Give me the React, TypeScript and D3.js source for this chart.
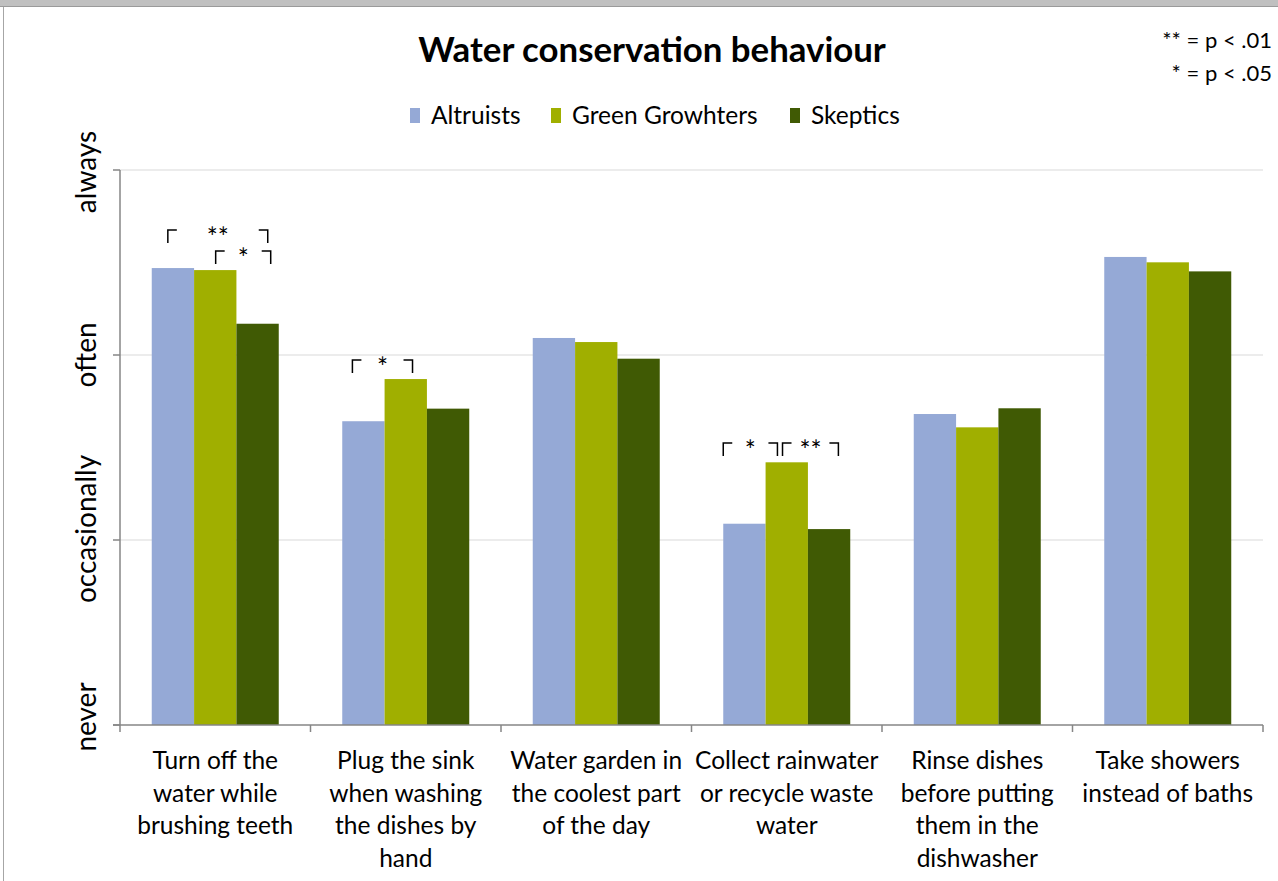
import React from "react";
import * as d3 from "d3";

const title = "Water conservation behaviour";
const seriesNames = ["Altruists", "Green Growhters", "Skeptics"];
const seriesColors = ["#95a9d6", "#a0af00", "#405a04"];
const categories = [
  ["Turn off the", "water while", "brushing teeth"],
  ["Plug the sink", "when washing", "the dishes by", "hand"],
  ["Water garden in", "the coolest part", "of the day"],
  ["Collect rainwater", "or recycle waste", "water"],
  ["Rinse dishes", "before putting", "them in the", "dishwasher"],
  ["Take showers", "instead of baths"],
];
const altruists = [2.47, 1.642, 2.092, 1.088, 1.681, 2.53];
const greenGrowthers = [2.459, 1.87, 2.07, 1.42, 1.609, 2.501];
const skeptics = [2.169, 1.71, 1.98, 1.059, 1.712, 2.452];
const yTickValues = [0, 1, 2, 3];
const yTickLabels = ["never", "occasionally", "often", "always"];
const sigNotes = ["** = p < .01", "* = p < .05"];
// significance brackets: category index, left/right in bar units from group start, level on value scale
const sigCat = [0, 0, 1, 3, 3];
const sigLeft = [0.38, 1.51, 0.24, 0.0, 1.4];
const sigRight = [2.74, 2.81, 1.66, 1.28, 2.72];
const sigLevel = [2.676, 2.562, 1.973, 1.524, 1.524];
const sigText = ["**", "*", "*", "*", "**"];

const W = 1278;
const H = 881;
const FONT = "Lato, 'Open Sans', sans-serif";
// layout (pixel styling)
const yLabelShift = [-8, -11, 0, 2];
const legendX = [410, 551, 790];

export default function App() {
  const left = 120, right = 1263, top = 170, bottom = 725;
  const x0 = d3.scaleBand<number>().domain(d3.range(categories.length)).range([left, right]).paddingInner(0).paddingOuter(0);
  const x1 = d3.scaleBand<number>().domain(d3.range(3)).range([0, x0.bandwidth()]).paddingInner(0).paddingOuter(0.75);
  const y = d3.scaleLinear().domain([0, 3]).range([bottom, top]);
  const series = [altruists, greenGrowthers, skeptics];
  const bw = x1.bandwidth();
  const boundaries = d3.range(categories.length + 1).map((i) => left + i * x0.step());
  const cx = 652;

  return (
    <svg width={W} height={H} style={{ position: "absolute", left: 0, top: 0, background: "#fff" }} fontFamily={FONT}>
      <rect x={0} y={0} width={W} height={6} fill="#c0c0c0" />
      <line x1={0} x2={W} y1={6.5} y2={6.5} stroke="#9a9a9a" />
      <line x1={3.5} x2={3.5} y1={7} y2={H} stroke="#a6a6a6" />

      <text x={cx} y={62} textAnchor="middle" fontSize={34.8} fontWeight="bold" fill="#000">{title}</text>

      {sigNotes.map((t, i) => (
        <text key={t} x={1272} y={48 + i * 33} textAnchor="end" fontSize={22} fill="#000">{t}</text>
      ))}

      {seriesNames.map((n, i) => (
        <g key={n}>
          <rect x={legendX[i]} y={108} width={10} height={15} fill={seriesColors[i]} />
          <text x={legendX[i] + 21} y={124} fontSize={24.5} fill="#000">{n}</text>
        </g>
      ))}

      {yTickValues.slice(1).map((v) => (
        <line key={v} x1={left} x2={right} y1={y(v)} y2={y(v)} stroke="#d9d9d9" strokeWidth={1} />
      ))}

      {series.map((vals, si) =>
        vals.map((v, ci) => (
          <rect
            key={`${si}-${ci}`}
            x={x0(ci)! + x1(si)!}
            y={y(v)}
            width={bw}
            height={y(0) - y(v)}
            fill={seriesColors[si]}
          />
        ))
      )}

      <line x1={left} x2={left} y1={top} y2={bottom} stroke="#868686" strokeWidth={1.5} />
      <line x1={left - 7} x2={right} y1={bottom} y2={bottom} stroke="#868686" strokeWidth={1.5} />
      {yTickValues.map((v) => (
        <line key={v} x1={left - 7} x2={left} y1={y(v)} y2={y(v)} stroke="#868686" strokeWidth={1.5} />
      ))}
      {boundaries.map((bx, i) => (
        <line key={i} x1={bx} x2={bx} y1={bottom} y2={bottom + 7} stroke="#868686" strokeWidth={1.5} />
      ))}

      {yTickValues.map((v, i) => (
        <text key={v} transform={`translate(85,${y(v) + yLabelShift[i]}) rotate(-90)`} textAnchor="middle" dominantBaseline="central" fontSize={28} fill="#000">
          {yTickLabels[i]}
        </text>
      ))}

      {categories.map((lines, ci) => (
        <text key={ci} x={x0(ci)! + x0.bandwidth() / 2} textAnchor="middle" fontSize={24.5} fill="#000">
          {lines.map((l, li) => (
            <tspan key={li} x={x0(ci)! + x0.bandwidth() / 2} y={769 + li * 32.7}>{l}</tspan>
          ))}
        </text>
      ))}

      {sigCat.map((c, i) => {
        const gx = x0(c)! + x1(0)!;
        const lx = gx + sigLeft[i] * bw;
        const rx = gx + sigRight[i] * bw;
        const ty = y(sigLevel[i]);
        return (
          <g key={i}>
            <path d={`M${lx},${ty + 13}V${ty}H${lx + 9}`} fill="none" stroke="#000" strokeWidth={1.5} />
            <path d={`M${rx - 9},${ty}H${rx}V${ty + 13}`} fill="none" stroke="#000" strokeWidth={1.5} />
            <text x={(lx + rx) / 2} y={ty + 17} textAnchor="middle" fontSize={26} fill="#000">{sigText[i]}</text>
          </g>
        );
      })}
    </svg>
  );
}
